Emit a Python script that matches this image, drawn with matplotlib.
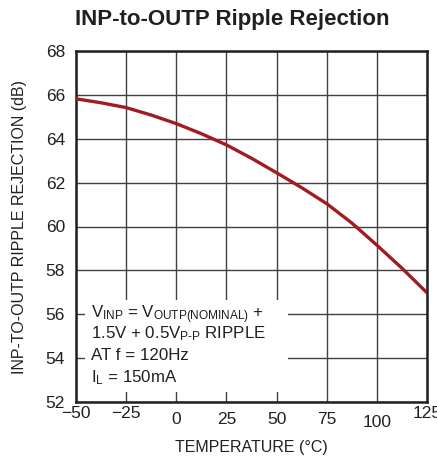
import matplotlib
matplotlib.use("Agg")
import matplotlib.pyplot as plt
import matplotlib.transforms as mtransforms
from matplotlib.patches import Rectangle
from matplotlib import font_manager

# ripple rejection vs temperature
temperature = [-50, -37.5, -25, -12.5, 0, 12.5, 25, 37.5, 50, 62.5, 75, 87.5, 100, 112.5, 125]
rejection = [65.82, 65.64, 65.42, 65.08, 64.69, 64.23, 63.72, 63.11, 62.45,
             61.77, 61.04, 60.16, 59.15, 58.1, 56.98]

x_ticks = [-50, -25, 0, 25, 50, 75, 100, 125]
x_tick_labels = ["\u221250", "\u221225", "0", "25", "50", "75", "100", "125"]
y_ticks = [52, 54, 56, 58, 60, 62, 64, 66, 68]

note_lines = [
    "$\\mathregular{V_{INP}}$ = $\\mathregular{V_{OUTP(NOMINAL)}}$ +",
    "1.5V + 0.5$\\mathregular{V_{P\\text{-}P}}$ RIPPLE",
    "AT f = 120Hz",
    "$\\mathregular{I_L}$ = 150mA",
]
note_baselines = [55.82, 54.91, 53.91, 52.91]

names = {f.name for f in font_manager.fontManager.ttflist}
family = "Liberation Sans Narrow" if "Liberation Sans Narrow" in names else "Liberation Sans"
plt.rcParams["font.family"] = [family, "DejaVu Sans"]
plt.rcParams["mathtext.fontset"] = "custom"
plt.rcParams["mathtext.rm"] = family

ink = "#231f20"

fig = plt.figure(figsize=(4.37, 4.58), dpi=100)
ax = fig.add_axes([76 / 437, 1 - 402 / 458, 351 / 437, 351 / 458])

ax.set_xlim(-50, 125)
ax.set_ylim(52, 68)
ax.set_xticks(x_ticks)
ax.set_xticklabels(x_tick_labels)
ax.set_yticks(y_ticks)
ax.tick_params(length=0, labelsize=12.5, colors=ink)
ax.tick_params(axis="y", pad=8)
ax.tick_params(axis="x", pad=3)

# the x labels sit at slightly different heights
drops = [0, 0, 6, 6, 6, 6, 9, 0]
for lab, d in zip(ax.get_xticklabels(), drops):
    lab.set_transform(lab.get_transform() +
                      mtransforms.ScaledTranslation(0, -d / 100, fig.dpi_scale_trans))

ax.grid(True, color="#404040", linewidth=1.0)
ax.set_axisbelow(True)
for s in ax.spines.values():
    s.set_color(ink)
    s.set_linewidth(1.8)

ax.plot(temperature, rejection, color="#a01c22", linewidth=2.4, zorder=3)

# condition notes on a white patch that interrupts the grid
ax.add_patch(Rectangle((-45.5, 52.45), 101.0, 4.2, facecolor="white",
                       edgecolor="none", zorder=2))
for line, yb in zip(note_lines, note_baselines):
    ax.text(-42.5, yb, line, fontsize=12.2, color=ink, va="baseline", ha="left", zorder=4)

ax.set_xlabel("TEMPERATURE (\u00b0C)", fontsize=11.5, color=ink, va="center")
ax.xaxis.set_label_coords(0.4986, -0.131)
ax.set_ylabel("INP-TO-OUTP RIPPLE REJECTION (dB)", fontsize=11.5, color=ink, labelpad=13)
fig.text(232 / 437, 1 - 19 / 458, "INP-to-OUTP Ripple Rejection", ha="center", va="center",
         fontsize=16, fontweight="bold", color=ink)

fig.savefig("out.png", dpi=100)
